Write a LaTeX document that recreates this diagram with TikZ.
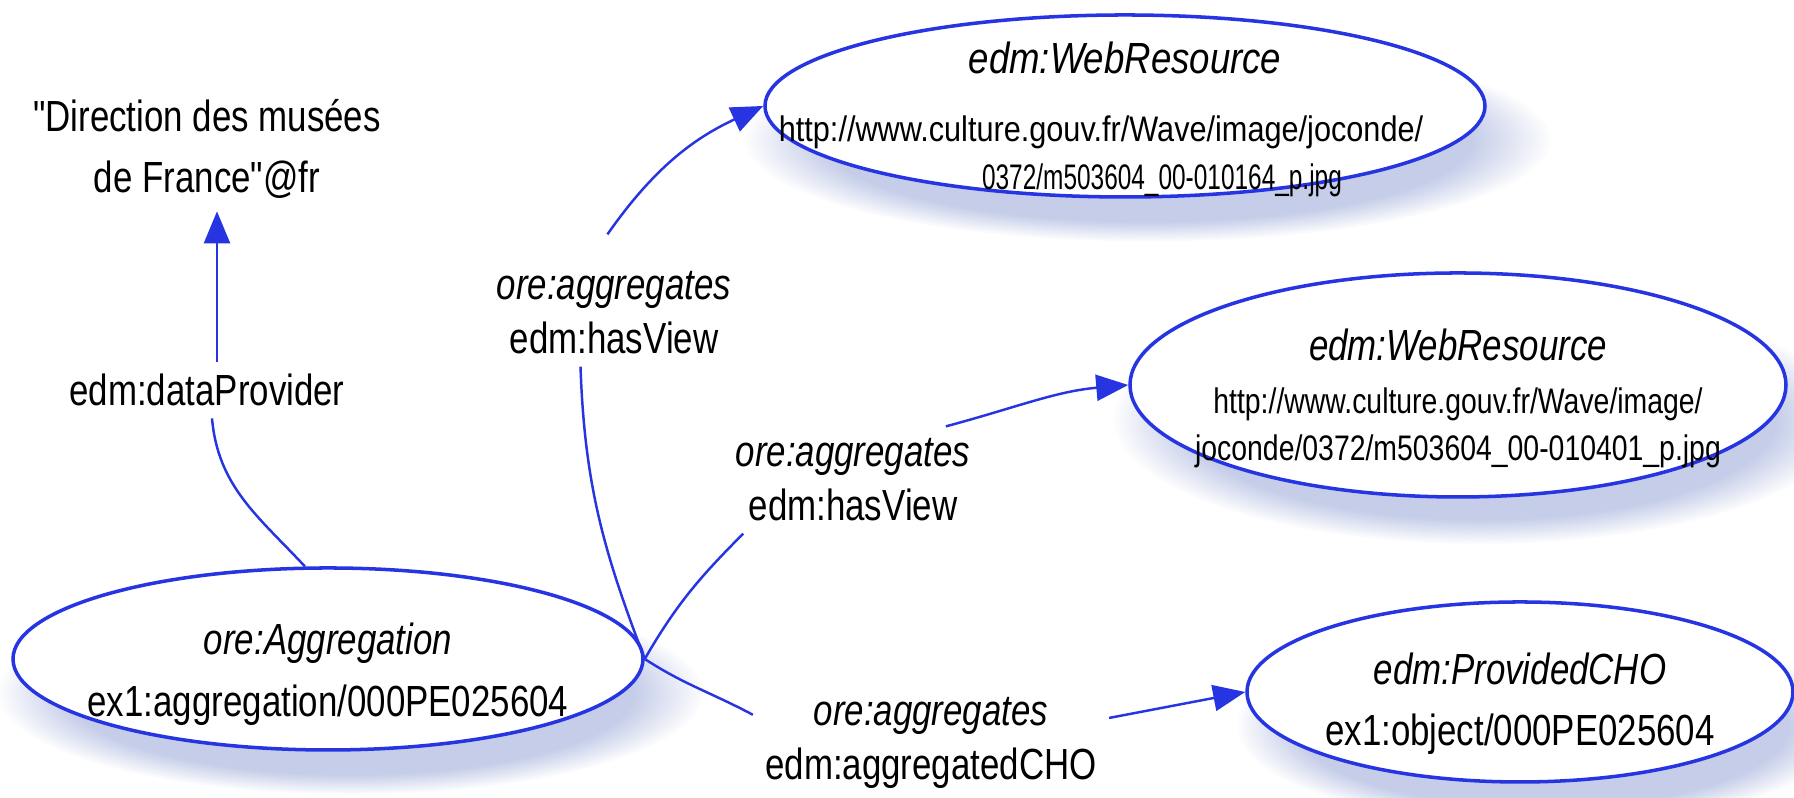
\documentclass[tikz,border=0pt]{standalone}
\usepackage{fontspec}
\usepackage{graphicx}
\setmainfont[FakeStretch=0.8]{Liberation Sans}
\newfontfamily\plainfont[FakeStretch=0.8]{Liberation Sans}
\usetikzlibrary{shapes.geometric}
\usetikzlibrary{arrows.meta}
\usetikzlibrary{shadows}

\definecolor{rdfblue}{RGB}{38,52,226}
\definecolor{shadowblue}{RGB}{150,165,215}

\newcommand{\mainsize}{\fontsize{12.4}{17.5}\selectfont}
\newcommand{\urlsize}{\fontsize{10.1}{13.5}\selectfont}
\newcommand{\labelsize}{\fontsize{12.4}{15.3}\selectfont}
\newcommand{\dq}{{\plainfont\char"22}}
\newcommand{\inellipse}[2][0pt]{\makebox[0pt]{\raisebox{#1}[0pt][0pt]{\begin{tabular}{@{}c@{}}#2\end{tabular}}}}

\tikzset{
  resource/.style={ellipse, draw=rdfblue, line width=1pt, fill=white, inner sep=0pt,
    circular drop shadow={fill=shadowblue, opacity=0.55, shadow scale=1.12,
      shadow xshift=2mm, shadow yshift=-3mm, path fading={circle with fuzzy edge 20 percent}}},
  prop/.style={align=center, font=\labelsize},
  link/.style={draw=rdfblue, line width=0.7pt}
}

\begin{document}
\begin{tikzpicture}[>={Triangle[length=3.2mm,width=2.6mm]}]
	\path[use as bounding box, fill=white] (0,0) rectangle (17.94,7.98);
	\node[prop, font=\fontsize{12.4}{17.6}\selectfont] (lit) at (2.07,6.49) {\dq Direction des musées\\de France\dq @fr};
	\node[prop] (dp) at (2.07,4.08) {edm:dataProvider};
	\node[resource, minimum width=6.3cm, minimum height=1.82cm, font=\mainsize] (agg) at (3.28,1.39)
	  {\inellipse[-7pt]{\textit{ore:Aggregation}\\ex1:aggregation/000PE025604}};
	\node[prop] (hv1) at (6.14,4.85) {\textit{ore:aggregates}\\edm:hasView};
	\node[resource, minimum width=7.2cm, minimum height=1.82cm, font=\urlsize] (wr1) at (11.25,6.92)
	  {\inellipse[-7pt]{\scalebox{1.05}[1]{\fontsize{12.4}{13.5}\selectfont\itshape edm:WebResource}\\[6.1pt]
	   \hspace*{-0.48cm}\scalebox{1.08}[1]{http://www.culture.gouv.fr/Wave/image/joconde/}\\
	   \hspace*{0.74cm}\scalebox{0.86}[1]{0372/m503604\_00-010164\_p.jpg}}};
	\node[prop] (hv2) at (8.53,3.18) {\textit{ore:aggregates}\\edm:hasView};
	\node[resource, minimum width=6.56cm, minimum height=2.24cm, font=\urlsize] (wr2) at (14.58,4.13)
	  {\inellipse[-7pt]{{\fontsize{12.4}{13.5}\selectfont\itshape edm:WebResource}\\[1.6pt]
	   http://www.culture.gouv.fr/Wave/image/\\joconde/0372/m503604\_00-010401\_p.jpg}};
	\node[prop] (ach) at (9.31,0.55) {\textit{ore:aggregates}\\edm:aggregatedCHO};
	\node[resource, minimum width=5.46cm, minimum height=1.8cm, font=\mainsize] (cho) at (15.20,1.06)
	  {\inellipse[-6pt]{\textit{edm:ProvidedCHO}\\ex1:object/000PE025604}};
	\draw[link] (agg.104) to[out=133, in=-85] (dp.-80);
	\draw[link,->] ([xshift=1mm]dp.north) -- ([xshift=1mm]lit.south);
	\draw[link] (agg.east) to[out=111, in=-88] (hv1.-122);
	\draw[link,->] ([yshift=2.5mm]hv1.97) to[out=55, in=205] (wr1.west);
	\draw[link] (agg.east) to[out=60, in=225] ([xshift=2mm]hv2.south west);
	\draw[link,->] (hv2.30) to[out=15, in=185] (wr2.west);
	\draw[link] (agg.east) to[out=-33, in=152] (ach.171);
	\draw[link,->] (ach.8) -- (cho.west);
\end{tikzpicture}
\end{document}
